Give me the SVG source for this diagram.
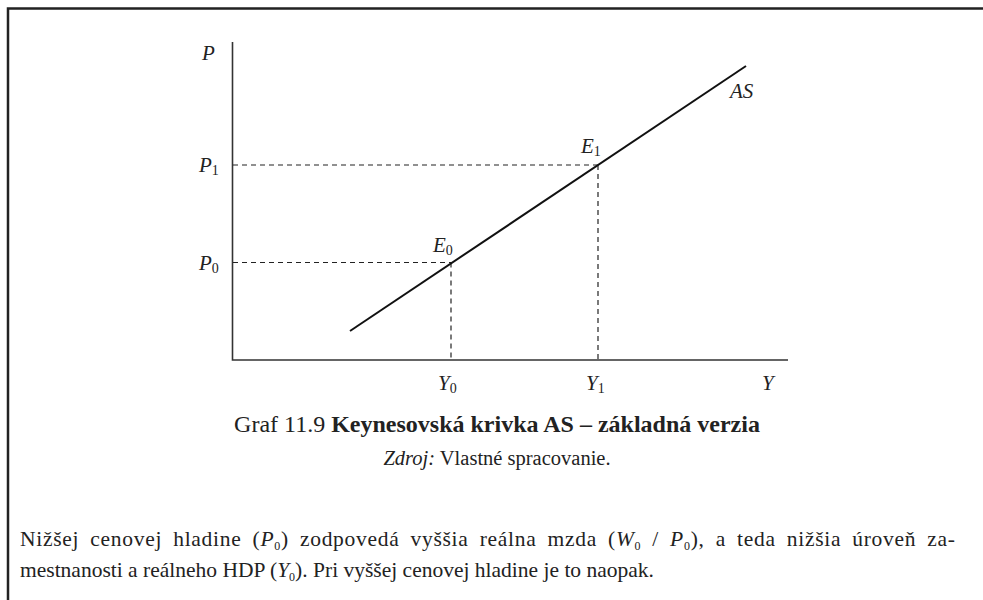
<svg xmlns="http://www.w3.org/2000/svg" width="983" height="600" viewBox="0 0 983 600">
<style>
.frame{stroke:#222;stroke-width:2.5;fill:none}
.axis{stroke:#333;stroke-width:1.6;fill:none}
.curve{stroke:#111;stroke-width:2;fill:none}
.dash{stroke:#222;stroke-width:1.2;stroke-dasharray:5,4;fill:none}
.lbl{font-family:"Liberation Serif",serif;font-size:21px;font-style:italic;fill:#222}
.sub{font-style:normal;font-size:14px}
.cap{font-family:"Liberation Serif",serif;font-size:24px;fill:#222}
.src{font-family:"Liberation Serif",serif;font-size:20.5px;fill:#222}
.txt{font-family:"Liberation Serif",serif;font-size:21.5px;fill:#222}
.tsub{font-size:12px}
</style>
<rect width="983" height="600" fill="#fff"/>
<g id="frame">
<path class="frame" d="M8,600 V8.5 H983"/>
</g>
<g id="axes">
<path class="axis" d="M232.5,42 V360 H788"/>
</g>
<g id="connectors">
<path class="dash" d="M233,165 H598 M233,262.5 H451 M451,262.5 V360 M598,165 V360"/>
<path class="curve" d="M350,331 L746,66"/>
</g>
<g id="labels">
<text class="lbl" x="202" y="60">P</text>
<text class="lbl" x="199" y="172">P<tspan class="sub" dy="3">1</tspan></text>
<text class="lbl" x="199" y="270">P<tspan class="sub" dy="3">0</tspan></text>
<text class="lbl" x="433" y="252">E<tspan class="sub" dy="3">0</tspan></text>
<text class="lbl" x="581" y="153">E<tspan class="sub" dy="3">1</tspan></text>
<text class="lbl" x="730" y="98">AS</text>
<text class="lbl" x="438" y="390">Y<tspan class="sub" dy="3">0</tspan></text>
<text class="lbl" x="586" y="390">Y<tspan class="sub" dy="3">1</tspan></text>
<text class="lbl" x="762" y="390">Y</text>
</g>
<g id="caption">
<text class="cap" x="497" y="432" text-anchor="middle">Graf 11.9 <tspan font-weight="bold">Keynesovská krivka AS – základná verzia</tspan></text>
<text class="src" x="497" y="465" text-anchor="middle"><tspan font-style="italic">Zdroj:</tspan> Vlastné spracovanie.</text>
</g>
<g id="paragraph">
<text class="txt" x="20" y="546" word-spacing="5" textLength="935" lengthAdjust="spacing">Nižšej cenovej hladine (<tspan font-style="italic">P</tspan><tspan class="tsub" dy="4">0</tspan><tspan dy="-4">) zodpovedá vyššia reálna mzda (</tspan><tspan font-style="italic">W</tspan><tspan class="tsub" dy="4">0</tspan><tspan dy="-4"> / </tspan><tspan font-style="italic">P</tspan><tspan class="tsub" dy="4">0</tspan><tspan dy="-4">), a teda nižšia úroveň za-</tspan></text>
<text class="txt" x="20" y="577">mestnanosti a reálneho HDP (<tspan font-style="italic">Y</tspan><tspan class="tsub" dy="4">0</tspan><tspan dy="-4">). Pri vyššej cenovej hladine je to naopak.</tspan></text>
</g>
</svg>
